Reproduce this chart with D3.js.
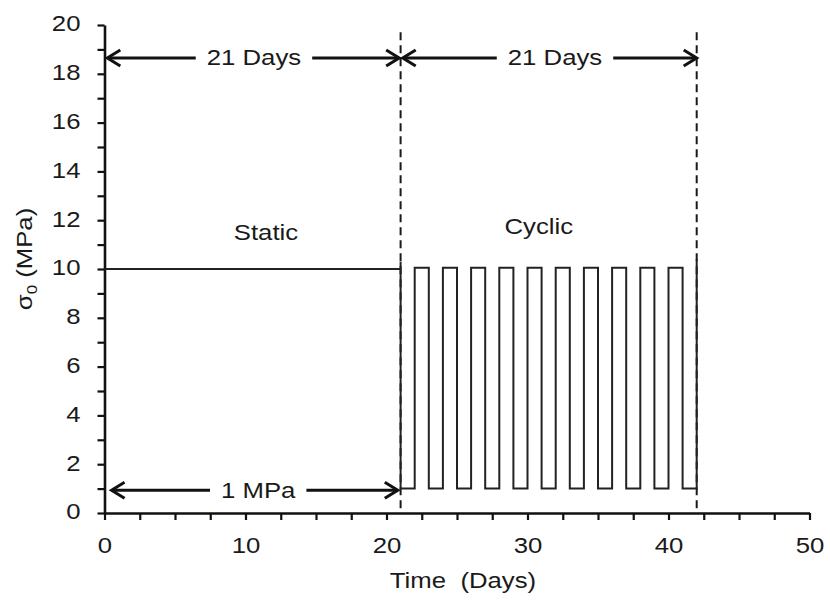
<!DOCTYPE html>
<html>
<head>
<meta charset="utf-8">
<script src="https://cdn.jsdelivr.net/npm/d3@7"></script>
<style>
  body { margin: 0; background: #fff; }
  text { font-family: "Liberation Sans", Arial, sans-serif; fill: #1a1a1a; }
</style>
</head>
<body>
<script>
var svgWidth = 830;
var svgHeight = 605;

var margin = { top: 25, right: 20.5, bottom: 92, left: 104.5 };

// data
var xTicks = [0, 2.5, 5, 7.5, 10, 12.5, 15, 17.5, 20, 22.5, 25, 27.5, 30, 32.5, 35, 37.5, 40, 42.5, 45, 47.5, 50];
var yTicks = [0, 1, 2, 3, 4, 5, 6, 7, 8, 9, 10, 11, 12, 13, 14, 15, 16, 17, 18, 19, 20];

var staticPoints = [[0, 10], [21, 10]];

var cyclicPoints = [
  [21, 10.3], [21, 1], [22, 1], [22, 10.05], [23, 10.05], [23, 1],
  [24, 1], [24, 10.05], [25, 10.05], [25, 1],
  [26, 1], [26, 10.05], [27, 10.05], [27, 1],
  [28, 1], [28, 10.05], [29, 10.05], [29, 1],
  [30, 1], [30, 10.05], [31, 10.05], [31, 1],
  [32, 1], [32, 10.05], [33, 10.05], [33, 1],
  [34, 1], [34, 10.05], [35, 10.05], [35, 1],
  [36, 1], [36, 10.05], [37, 10.05], [37, 1],
  [38, 1], [38, 10.05], [39, 10.05], [39, 1],
  [40, 1], [40, 10.05], [41, 10.05], [41, 1],
  [42, 1], [42, 10.4]
];

var dashedAt = [21, 42];
var dashedTop = 19.7;

var arrowLabels = ["21 Days", "21 Days", "1 MPa"];
var arrowStart = [0.2, 21.15, 0.5];
var arrowEnd = [20.9, 42, 20.8];
var arrowLevel = [18.65, 18.65, 0.93];
var arrowLabelAt = [10.6, 31.95, 10.9];

var phaseLabels = ["Static", "Cyclic"];
var phaseLabelX = [11.45, 30.8];
var phaseLabelY = [11.2, 11.45];

var width = svgWidth - margin.left - margin.right;
var height = svgHeight - margin.top - margin.bottom;

var svg = d3.select("body")
  .append("svg")
  .attr("width", svgWidth)
  .attr("height", svgHeight);

var chartGroup = svg.append("g")
  .attr("transform", `translate(${margin.left}, ${margin.top})`);

var xScale = d3.scaleLinear().domain([0, 50]).range([0, width]);
var yScale = d3.scaleLinear().domain([0, 20]).range([height, 0]);

// the original text looks a bit wider than Arial
var stretch = "scale(1.12,1)";

// axes
var bottomAxis = d3.axisBottom(xScale)
  .tickValues(xTicks)
  .tickSize(7)
  .tickSizeOuter(0)
  .tickFormat(d => d % 10 === 0 ? d : "");

var leftAxis = d3.axisLeft(yScale)
  .tickValues(yTicks)
  .tickSize(7)
  .tickSizeOuter(0)
  .tickFormat(d => d % 2 === 0 ? d : "");

var xAxisG = chartGroup.append("g")
  .attr("transform", `translate(0, ${height})`)
  .call(bottomAxis);

xAxisG.selectAll("text")
  .attr("y", null)
  .attr("dy", null)
  .attr("transform", "translate(0,40) " + stretch)
  .style("font-size", "23px")
  .style("fill", "#1a1a1a");

var yAxisG = chartGroup.append("g")
  .call(leftAxis);

yAxisG.selectAll("text")
  .attr("x", null)
  .attr("dy", "0.3em")
  .attr("transform", "translate(-24,-1) " + stretch)
  .style("font-size", "23px")
  .style("fill", "#1a1a1a");

chartGroup.selectAll(".domain")
  .attr("stroke", "#111")
  .attr("stroke-width", 2.6);
chartGroup.selectAll(".tick line")
  .attr("stroke", "#111")
  .attr("stroke-width", 2.2);

// dashed phase boundaries
chartGroup.selectAll(".boundary")
  .data(dashedAt)
  .enter()
  .append("line")
  .attr("class", "boundary")
  .attr("x1", d => xScale(d))
  .attr("x2", d => xScale(d))
  .attr("y1", yScale(dashedTop))
  .attr("y2", yScale(0))
  .attr("stroke", "#1a1a1a")
  .attr("stroke-width", 2)
  .attr("stroke-dasharray", "8,5");

var line = d3.line()
  .x(d => xScale(d[0]))
  .y(d => yScale(d[1]));

chartGroup.append("path")
  .datum(staticPoints)
  .attr("d", line)
  .attr("fill", "none")
  .attr("stroke", "#222")
  .attr("stroke-width", 2);

chartGroup.append("path")
  .datum(cyclicPoints)
  .attr("d", line)
  .attr("fill", "none")
  .attr("stroke", "#222")
  .attr("stroke-width", 2);

// double arrows with labels
function chevron(tipX, tipY, dir) {
  var l = 13 * dir, h = 8;
  return `M${tipX + l},${tipY - h} L${tipX},${tipY} L${tipX + l},${tipY + h}`;
}

arrowLabels.forEach(function(label, i) {
  var yy = yScale(arrowLevel[i]);
  var x1 = xScale(arrowStart[i]);
  var x2 = xScale(arrowEnd[i]);
  var g = chartGroup.append("g");

  g.append("line")
    .attr("x1", x1 + 2).attr("x2", x2 - 2)
    .attr("y1", yy).attr("y2", yy)
    .attr("stroke", "#111")
    .attr("stroke-width", 3);

  g.append("path").attr("d", chevron(x1, yy, 1))
    .attr("fill", "none").attr("stroke", "#111").attr("stroke-width", 3);
  g.append("path").attr("d", chevron(x2, yy, -1))
    .attr("fill", "none").attr("stroke", "#111").attr("stroke-width", 3);

  var bg = g.append("rect").attr("fill", "#fff");
  var t = g.append("text")
    .attr("text-anchor", "middle")
    .attr("transform", `translate(${xScale(arrowLabelAt[i])},${yy + 7.5}) ${stretch}`)
    .style("font-size", "23px")
    .text(label);

  var w = t.node().getComputedTextLength() * 1.12;
  bg.attr("x", xScale(arrowLabelAt[i]) - w / 2 - 11)
    .attr("width", w + 22)
    .attr("y", yy - 4)
    .attr("height", 8);
});

// phase labels
chartGroup.selectAll(".phase")
  .data(phaseLabels)
  .enter()
  .append("text")
  .attr("class", "phase")
  .attr("text-anchor", "middle")
  .attr("transform", (d, i) => `translate(${xScale(phaseLabelX[i])},${yScale(phaseLabelY[i])}) ${stretch}`)
  .style("font-size", "23px")
  .text(d => d);

// axis titles
svg.append("text")
  .attr("text-anchor", "middle")
  .attr("transform", `translate(463,588) ${stretch}`)
  .style("font-size", "23px")
  .style("white-space", "pre")
  .text("Time  (Days)");

var yTitle = svg.append("text")
  .attr("text-anchor", "middle")
  .attr("transform", "translate(32,259) rotate(-90) " + stretch)
  .style("font-size", "23px");
yTitle.append("tspan").text("\u03c3");
yTitle.append("tspan").attr("dy", 5).style("font-size", "15px").text("0");
yTitle.append("tspan").attr("dy", -5).text(" (MPa)");
</script>
</body>
</html>
